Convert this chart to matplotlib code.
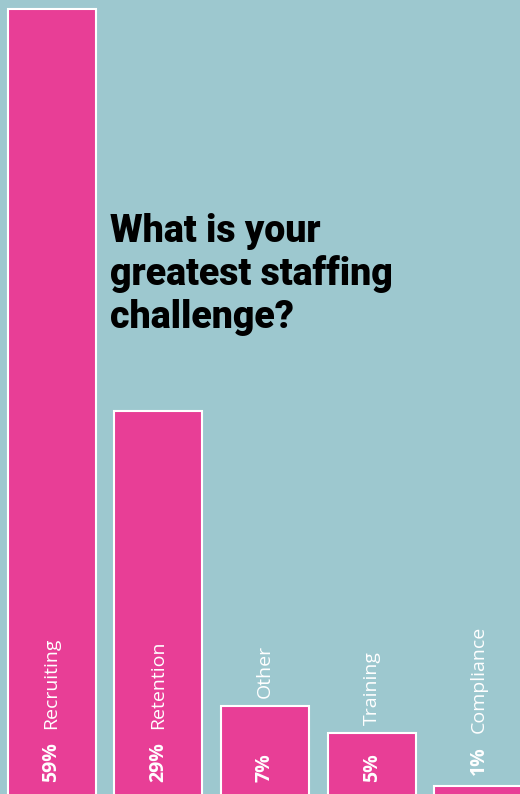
import matplotlib
matplotlib.use('Agg')
import matplotlib.pyplot as plt

# Survey answers, share of respondents in percent
categories = ['Recruiting', 'Retention', 'Other', 'Training', 'Compliance']
shares = [59, 29, 7, 5, 1]

BG = '#9dc8cf'
PINK = '#e83e96'

fig = plt.figure(figsize=(5.2, 7.94), dpi=100, facecolor=BG)
ax = fig.add_axes([0, 0, 1, 1])
ax.set_facecolor(BG)

positions = range(len(categories))
ax.bar(positions, shares, width=0.825, color=PINK,
       edgecolor='white', linewidth=1.5)

# baseline sits just below the bottom edge
ax.set_xlim(-0.483, 4.39)
ax.set_ylim(0.42, 59.67)
ax.axis('off')

# Percent in bold at the foot of each bar (above it when the bar is too
# short), category name after it, pushed above the bar top if it won't fit
fig.canvas.draw()
renderer = fig.canvas.get_renderer()
inv = ax.transData.inverted()


def data_span(artist):
    bb = artist.get_window_extent(renderer)
    return inv.transform((bb.x0, bb.y0))[1], inv.transform((bb.x0, bb.y1))[1]


for i, (name, value) in enumerate(zip(categories, shares)):
    pct_base = 1.3 if value >= 2 else value + 0.85
    pct = ax.text(i, pct_base, f'{value}%', rotation=90, ha='center',
                  va='bottom', color='white', fontsize=14, fontweight='bold',
                  family='Open Sans')
    pct_top = data_span(pct)[1]
    label = ax.text(i, pct_top + 1.0, name, rotation=90, ha='center',
                    va='bottom', color='white', fontsize=14, family='Open Sans')
    lo, hi = data_span(label)
    if hi > value - 0.5 and pct_top + 1.0 < value + 0.55:
        label.set_y(value + 0.55)

fig.text(110 / 520, 1 - 213 / 794,
         'What is your\ngreatest staffing\nchallenge?',
         ha='left', va='top', fontsize=27, fontweight='black',
         family='Roboto', color='black', linespacing=1.18)

fig.savefig('out.png', dpi=100, facecolor=BG)
